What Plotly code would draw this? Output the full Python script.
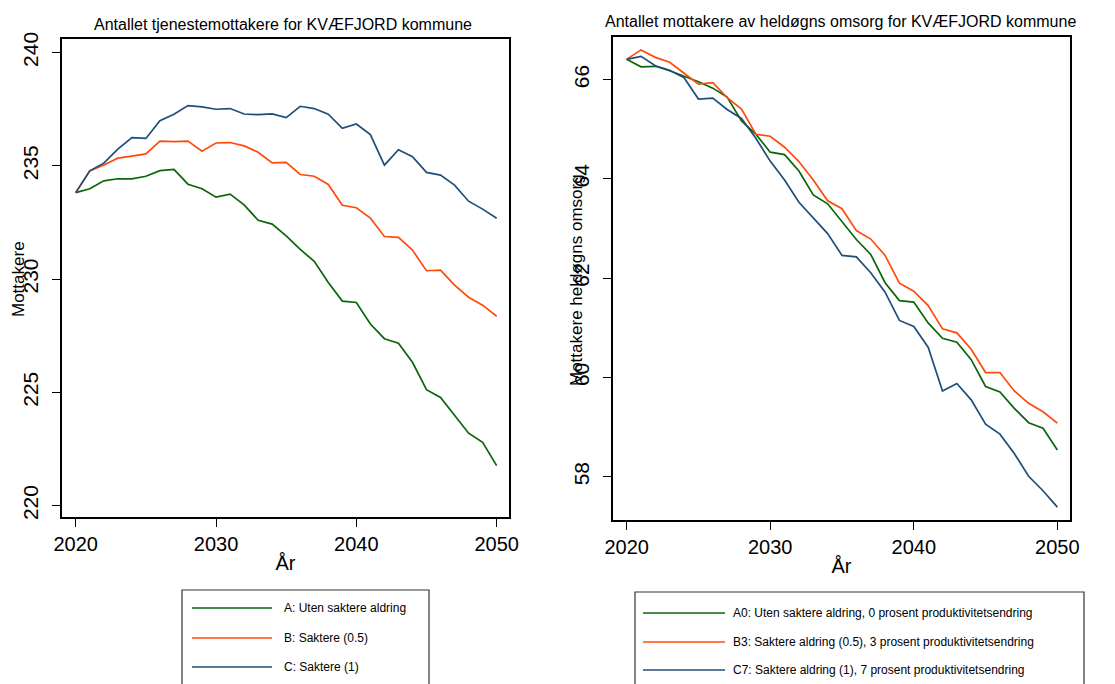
import plotly.graph_objects as go
from plotly.subplots import make_subplots

years = list(range(2020, 2051))

# venstre figur: tjenestemottakere
mottakere_A = [233.82, 233.99, 234.34, 234.43, 234.43, 234.54, 234.79, 234.84, 234.19, 233.99,
               233.62, 233.75, 233.28, 232.60, 232.43, 231.91, 231.31, 230.79, 229.85, 229.03,
               228.97, 228.02, 227.37, 227.17, 226.33, 225.12, 224.78, 224.01, 223.20, 222.80, 221.77]
mottakere_B = [233.82, 234.78, 235.04, 235.34, 235.43, 235.53, 236.09, 236.07, 236.09, 235.65,
               236.01, 236.03, 235.88, 235.60, 235.13, 235.15, 234.62, 234.54, 234.18, 233.26,
               233.15, 232.69, 231.88, 231.84, 231.28, 230.37, 230.40, 229.74, 229.20, 228.85, 228.36]
mottakere_C = [233.82, 234.78, 235.12, 235.74, 236.25, 236.21, 236.99, 237.28, 237.66, 237.60,
               237.50, 237.53, 237.29, 237.26, 237.29, 237.13, 237.63, 237.53, 237.28, 236.66,
               236.85, 236.38, 235.03, 235.71, 235.40, 234.71, 234.59, 234.15, 233.44, 233.09, 232.69]

# hoyre figur: heldogns omsorg
omsorg_A0 = [66.41, 66.26, 66.27, 66.18, 66.07, 65.96, 65.83, 65.65, 65.17, 64.90,
             64.54, 64.49, 64.16, 63.68, 63.50, 63.14, 62.78, 62.48, 61.91, 61.55,
             61.52, 61.10, 60.79, 60.71, 60.36, 59.82, 59.71, 59.38, 59.09, 58.98, 58.54]
omsorg_B3 = [66.41, 66.60, 66.45, 66.35, 66.13, 65.91, 65.94, 65.64, 65.41, 64.90,
             64.86, 64.64, 64.35, 63.98, 63.56, 63.40, 62.96, 62.79, 62.46, 61.90,
             61.74, 61.45, 60.98, 60.90, 60.57, 60.10, 60.10, 59.73, 59.48, 59.31, 59.08]
omsorg_C7 = [66.41, 66.47, 66.28, 66.19, 66.04, 65.61, 65.63, 65.40, 65.22, 64.82,
             64.36, 63.98, 63.53, 63.21, 62.90, 62.46, 62.43, 62.11, 61.72, 61.15,
             61.03, 60.61, 59.73, 59.88, 59.55, 59.06, 58.86, 58.47, 58.01, 57.72, 57.39]

names_left = ["A: Uten saktere aldring", "B: Saktere (0.5)", "C: Saktere (1)"]
names_right = ["A0: Uten saktere aldring, 0 prosent produktivitetsendring",
               "B3: Saktere aldring (0.5), 3 prosent produktivitetsendring",
               "C7: Saktere aldring (1), 7 prosent produktivitetsendring"]
colors = ["#0b650b", "#ff4a0a", "#1f4e79"]

# siden har 8px body-marg, saa figuren er litt mindre og alt flyttes 8px
OFF = 8
W, H = 1115 - OFF, 684 - OFF
FONT = "Liberation Sans, Arial, sans-serif"


def fx(p):
    return (p - OFF) / W


def fy(p):
    return 1 - (p - OFF) / H


fig = make_subplots(rows=1, cols=2)

for i, serie in enumerate([mottakere_A, mottakere_B, mottakere_C]):
    fig.add_trace(go.Scatter(x=years, y=serie, mode="lines", name=names_left[i],
                             line=dict(color=colors[i], width=1.7), showlegend=False),
                  row=1, col=1)
for i, serie in enumerate([omsorg_A0, omsorg_B3, omsorg_C7]):
    fig.add_trace(go.Scatter(x=years, y=serie, mode="lines", name=names_right[i],
                             line=dict(color=colors[i], width=1.7), showlegend=False),
                  row=1, col=2)

axis_style = dict(showline=True, linecolor="black", linewidth=1.5, mirror=True,
                  ticks="outside", ticklen=8, tickwidth=1.2, tickcolor="black",
                  showgrid=False, zeroline=False, color="black", automargin=False)

fig.update_xaxes(axis_style, tickvals=[2020, 2030, 2040, 2050], tickfont=dict(size=20),
                 title=dict(text="År", font=dict(size=20), standoff=2))
fig.update_xaxes(domain=[fx(62), fx(509)], range=[2019.02, 2050.88], row=1, col=1)
fig.update_xaxes(domain=[fx(613), fx(1070)], range=[2019.05, 2050.88], row=1, col=2)

fig.update_yaxes(axis_style, tickangle=-90, tickfont=dict(size=21), ticklabelstandoff=6)
fig.update_yaxes(domain=[fy(517), fy(39)], range=[219.5, 240.6],
                 tickvals=[220, 225, 230, 235, 240], row=1, col=1)
fig.update_yaxes(domain=[fy(520), fy(37)], range=[57.13, 66.86],
                 tickvals=[58, 60, 62, 64, 66], row=1, col=2)

annots = [
    dict(text="Antallet tjenestemottakere for KVÆFJORD kommune", x=fx(283), y=fy(25),
         font=dict(size=16)),
    dict(text="Antallet mottakere av heldøgns omsorg for KVÆFJORD kommune", x=fx(840), y=fy(22),
         font=dict(size=16)),
    dict(text="Mottakere", x=fx(18), y=fy(279), textangle=-90, font=dict(size=17)),
    dict(text="Mottakere heldøgns omsorg", x=fx(576), y=fy(280), textangle=-90,
         font=dict(size=17)),
]
for a in annots:
    fig.add_annotation(xref="paper", yref="paper", showarrow=False,
                       xanchor="center", yanchor="middle", **a)


# forklaringsbokser under hver figur
def add_legend(names, box, line_x, text_x, rows_y):
    fig.add_shape(type="rect", xref="paper", yref="paper",
                  x0=fx(box[0]), x1=fx(box[1]), y0=fy(box[3]), y1=fy(box[2]),
                  line=dict(color="#333333", width=1.2), fillcolor="white")
    for name, col, ry in zip(names, colors, rows_y):
        fig.add_shape(type="line", xref="paper", yref="paper",
                      x0=fx(line_x[0]), x1=fx(line_x[1]), y0=fy(ry), y1=fy(ry),
                      line=dict(color=col, width=1.7))
        fig.add_annotation(text=name, xref="paper", yref="paper", x=fx(text_x), y=fy(ry),
                           xanchor="left", yanchor="middle", showarrow=False,
                           font=dict(size=12))


add_legend(names_left, (182, 429, 590, 700), (192, 272), 282, (608, 638, 667))
add_legend(names_right, (635, 1084, 592, 700), (643, 725), 731, (613, 642, 670))

fig.update_layout(
    width=W, height=H,
    margin=dict(l=0, r=0, t=0, b=0),
    paper_bgcolor="white", plot_bgcolor="white",
    font=dict(family=FONT, color="black"),
    showlegend=False,
)

fig.write_html("out.html")
